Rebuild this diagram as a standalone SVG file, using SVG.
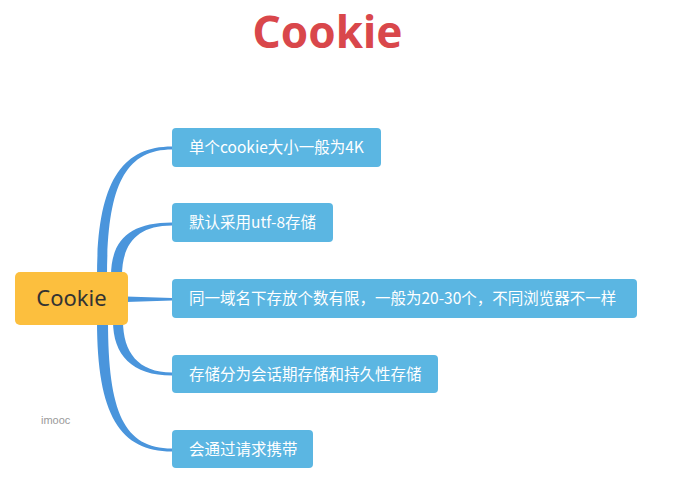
<svg xmlns="http://www.w3.org/2000/svg" width="693" height="496" viewBox="0 0 693 496">
<style>
.box{fill:#5bb6e2;}
.bt{fill:#ffffff;font-family:"Noto Sans CJK SC","Noto Sans",sans-serif;font-size:15.5px;}
.br{fill:#4a95dc;}
</style>
<rect width="693" height="496" fill="#ffffff"/>
<text id="title" x="327.5" y="48" text-anchor="middle" font-family="'Noto Sans','Open Sans',sans-serif" font-weight="bold" font-size="44" fill="#d9474b">Cookie</text>
<g id="connectors">
<path class="br" d="M97,276 C97,185 120,146.5 172,146.5 L172,149.5 C124,149.5 107,188 107,276 Z"/>
<path class="br" d="M111,276 C111,240 130,222.5 172,222.5 L172,225.5 C136,225.5 122,245 122,276 Z"/>
<path class="br" d="M126,296.5 L172,298 L172,300.5 L126,302 Z"/>
<path class="br" d="M113,321 C113,355 132,375.5 172,375.5 L172,372.5 C138,372.5 123,352 123,321 Z"/>
<path class="br" d="M97,321 C97,415 120,451.5 172,451.5 L172,448.5 C124,448.5 108,412 108,321 Z"/>
</g>
<g id="root">
<rect x="15" y="272" width="113" height="53" rx="5" fill="#fcbf3e"/>
<text x="71.5" y="306" text-anchor="middle" font-family="'Noto Sans',sans-serif" font-size="22" fill="#333333">Cookie</text>
</g>
<g id="n1">
<rect class="box" x="172" y="128" width="209" height="39" rx="4"/>
<text class="bt" x="189" y="153">单个cookie大小一般为4K</text>
</g>
<g id="n2">
<rect class="box" x="172" y="203" width="161" height="39" rx="4"/>
<text class="bt" x="189" y="228">默认采用utf-8存储</text>
</g>
<g id="n3">
<rect class="box" x="172" y="279" width="465" height="39" rx="4"/>
<text class="bt" x="189" y="304">同一域名下存放个数有限，一般为20-30个，不同浏览器不一样</text>
</g>
<g id="n4">
<rect class="box" x="172" y="355" width="266" height="38" rx="4"/>
<text class="bt" x="189" y="380">存储分为会话期存储和持久性存储</text>
</g>
<g id="n5">
<rect class="box" x="172" y="430" width="141" height="38" rx="4"/>
<text class="bt" x="189" y="455">会通过请求携带</text>
</g>
<text id="watermark" x="41" y="424" font-family="'Liberation Sans',sans-serif" font-size="11" fill="#9a9a9a">imooc</text>
</svg>
